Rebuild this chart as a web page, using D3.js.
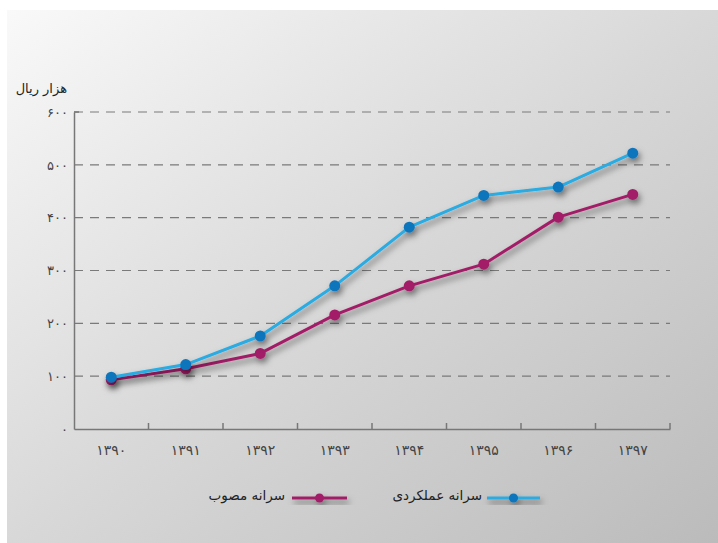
<!DOCTYPE html>
<html><head><meta charset="utf-8">
<script src="https://cdn.jsdelivr.net/npm/d3@7"></script>
<style>
html,body{margin:0;padding:0;background:#fff;}
svg{display:block;}
text{font-family:"DejaVu Sans",sans-serif;}
</style></head>
<body>
<svg id="c" width="718" height="543"></svg>
<script>
const years = ["۱۳۹۰","۱۳۹۱","۱۳۹۲","۱۳۹۳","۱۳۹۴","۱۳۹۵","۱۳۹۶","۱۳۹۷"];
const actual = [98, 122, 176, 271, 382, 442, 458, 522];
const approved = [93, 114, 143, 216, 271, 312, 401, 444];
const yTicks = [0, 100, 200, 300, 400, 500, 600];
const yTickLabels = ["۰","۱۰۰","۲۰۰","۳۰۰","۴۰۰","۵۰۰","۶۰۰"];
const seriesNames = ["سرانه مصوب","سرانه عملکردی"];
const yTitle = "هزار ریال";

(function(){
const svg = d3.select("#c");
const defs = svg.append("defs");
const g = defs.append("linearGradient").attr("id","bg").attr("x1","0").attr("y1","0").attr("x2","1").attr("y2","1");
g.append("stop").attr("offset","0").attr("stop-color","#f9f9f9");
g.append("stop").attr("offset","0.5").attr("stop-color","#d8d8d8");
g.append("stop").attr("offset","1").attr("stop-color","#bbbbbb");
const f = defs.append("filter").attr("id","sh").attr("x","-20%").attr("y","-20%").attr("width","140%").attr("height","140%");
f.append("feDropShadow").attr("dx",2).attr("dy",4).attr("stdDeviation",3).attr("flood-color","#000").attr("flood-opacity",0.5);

svg.append("rect").attr("x",7).attr("y",10).attr("width",711).attr("height",533).attr("fill","url(#bg)");

const pLeft = 74, pRight = 670, pTop = 112, pBottom = 429;
const x = d3.scaleBand().domain(years).range([pLeft, pRight]);
const y = d3.scaleLinear().domain([0, 600]).range([pBottom, pTop]);

svg.append("g").selectAll("line").data(yTicks.filter(d => d > 0)).join("line")
  .attr("x1", pLeft).attr("x2", pRight)
  .attr("y1", d => y(d)).attr("y2", d => y(d))
  .attr("stroke", "#7a7a7a").attr("stroke-width", 1.2).attr("stroke-dasharray", "9,7");

const ya = svg.append("g").attr("transform", `translate(${pLeft},0)`)
  .call(d3.axisLeft(y).tickValues(yTicks).tickFormat((d,i) => yTickLabels[i]).tickSize(0).tickPadding(6));
ya.select(".domain").attr("stroke","#777").attr("stroke-width",1.5);
ya.selectAll("text").attr("font-size",13).attr("fill","#444");
svg.append("line").attr("x1",pLeft).attr("x2",pLeft+5).attr("y1",pTop).attr("y2",pTop).attr("stroke","#777").attr("stroke-width",1.5);

const xa = svg.append("g").attr("transform", `translate(0,${pBottom})`)
  .call(d3.axisBottom(x).tickSize(0).tickPadding(16));
xa.select(".domain").attr("stroke","#777").attr("stroke-width",1.5);
xa.selectAll("text").attr("font-size",14).attr("fill","#444");
svg.append("g").selectAll("line").data(years.slice(1).concat(["end"])).join("line")
  .attr("x1", d => d === "end" ? pRight : x(d)).attr("x2", d => d === "end" ? pRight : x(d))
  .attr("y1", pBottom).attr("y2", pBottom - 6)
  .attr("stroke","#777").attr("stroke-width",1.5);

svg.append("text").attr("x", 67).attr("y", 93).attr("text-anchor","end")
  .attr("font-size",13).attr("fill","#222").text(yTitle);

const cx = d => x(d) + x.bandwidth()/2;
const line = d3.line().x((d,i) => cx(years[i])).y(d => y(d));

function drawSeries(vals, lineColor, dotColor) {
  const gg = svg.append("g").attr("filter","url(#sh)");
  gg.append("path").datum(vals).attr("d", line).attr("fill","none")
    .attr("stroke", lineColor).attr("stroke-width", 3).attr("stroke-linejoin","round");
  gg.selectAll("circle").data(vals).join("circle")
    .attr("cx", (d,i) => cx(years[i])).attr("cy", d => y(d)).attr("r", 5.5).attr("fill", dotColor);
}
drawSeries(approved, "#a21f68", "#a21f68");
drawSeries(actual, "#29abe2", "#0f75bc");

function legendItem(textX, lx1, lx2, name, lineColor, dotColor) {
  const gg = svg.append("g").attr("filter","url(#sh)");
  gg.append("line").attr("x1",lx1).attr("x2",lx2).attr("y1",498).attr("y2",498)
    .attr("stroke",lineColor).attr("stroke-width",3);
  gg.append("circle").attr("cx",(lx1+lx2)/2).attr("cy",498).attr("r",4.5).attr("fill",dotColor);
  svg.append("text").attr("x",textX).attr("y",500).attr("text-anchor","end")
    .attr("font-size",13.5).attr("fill","#222").text(name);
}
legendItem(285, 292, 347, seriesNames[0], "#a21f68", "#a21f68");
legendItem(482, 487, 540, seriesNames[1], "#29abe2", "#0f75bc");
})();
</script>
</body></html>
